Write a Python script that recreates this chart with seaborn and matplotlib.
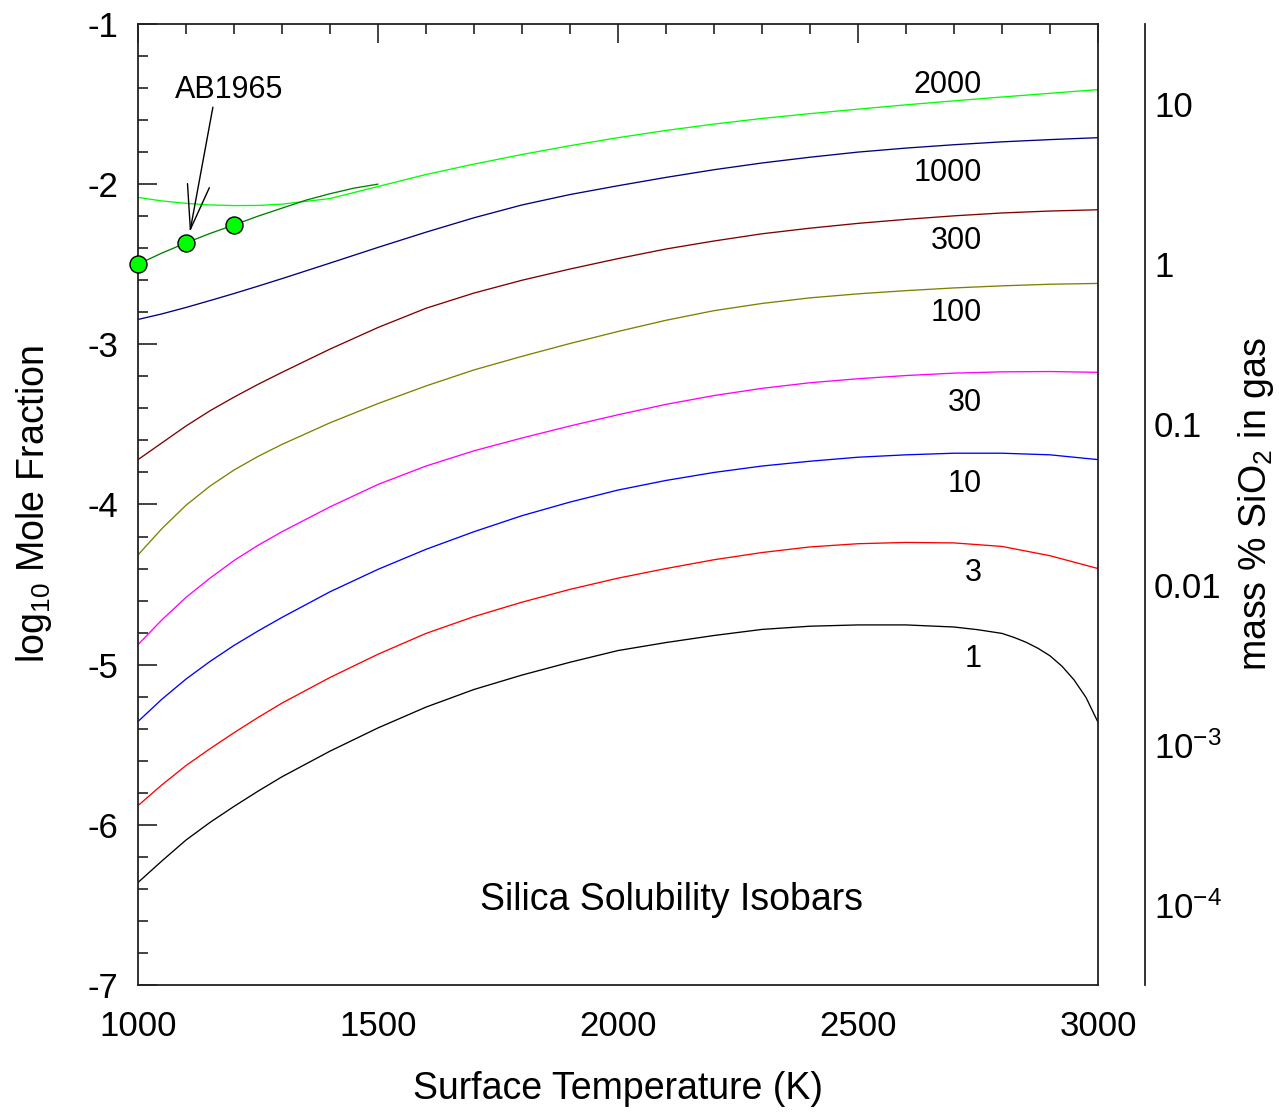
import numpy as np
import pandas as pd
import matplotlib
matplotlib.use("Agg")
import matplotlib.pyplot as plt
import seaborn as sns
from matplotlib.ticker import MultipleLocator

# ---------------- data ----------------
temps = [1000, 1050, 1100, 1150, 1200, 1250, 1300, 1400, 1500, 1600, 1700, 1800,
         1900, 2000, 2100, 2200, 2300, 2400, 2500, 2600, 2700, 2800, 2900, 3000]

p2000 = [-2.083, -2.105, -2.12, -2.13, -2.134, -2.133, -2.125, -2.09, -2.015, -1.94,
         -1.875, -1.815, -1.76, -1.71, -1.665, -1.625, -1.59, -1.56, -1.532, -1.505,
         -1.48, -1.456, -1.433, -1.41]
p1000 = [-2.845, -2.81, -2.77, -2.727, -2.683, -2.637, -2.59, -2.493, -2.395, -2.30,
         -2.21, -2.13, -2.065, -2.01, -1.958, -1.91, -1.868, -1.832, -1.80, -1.775,
         -1.754, -1.736, -1.722, -1.71]
p300 = [-3.72, -3.615, -3.51, -3.415, -3.33, -3.25, -3.175, -3.03, -2.895, -2.775,
        -2.68, -2.60, -2.53, -2.465, -2.405, -2.355, -2.31, -2.275, -2.245, -2.22,
        -2.198, -2.18, -2.168, -2.16]
p100 = [-4.315, -4.15, -4.005, -3.885, -3.785, -3.70, -3.625, -3.49, -3.37, -3.26,
        -3.16, -3.075, -2.995, -2.92, -2.85, -2.79, -2.745, -2.71, -2.685, -2.665,
        -2.648, -2.635, -2.625, -2.62]
p30 = [-4.875, -4.72, -4.58, -4.46, -4.35, -4.255, -4.17, -4.015, -3.875, -3.76,
       -3.665, -3.585, -3.51, -3.44, -3.375, -3.32, -3.275, -3.24, -3.215, -3.195,
       -3.18, -3.172, -3.17, -3.175]
p10 = [-5.355, -5.215, -5.09, -4.98, -4.88, -4.79, -4.705, -4.545, -4.405, -4.28,
       -4.17, -4.07, -3.985, -3.91, -3.85, -3.80, -3.76, -3.73, -3.705, -3.69,
       -3.68, -3.68, -3.69, -3.72]
p3 = [-5.88, -5.75, -5.63, -5.525, -5.425, -5.33, -5.24, -5.08, -4.935, -4.805,
      -4.70, -4.61, -4.53, -4.46, -4.40, -4.345, -4.30, -4.265, -4.245, -4.237,
      -4.24, -4.262, -4.32, -4.40]

temps_1 = [1000, 1050, 1100, 1150, 1200, 1250, 1300, 1400, 1500, 1600, 1700, 1800,
           1900, 2000, 2100, 2200, 2300, 2400, 2500, 2600, 2700, 2750, 2800, 2825,
           2850, 2875, 2900, 2925, 2950, 2975, 3000]
p1 = [-6.36, -6.225, -6.095, -5.985, -5.885, -5.79, -5.70, -5.54, -5.395, -5.265,
      -5.155, -5.065, -4.985, -4.912, -4.862, -4.818, -4.78, -4.76, -4.752, -4.752,
      -4.765, -4.782, -4.805, -4.83, -4.86, -4.898, -4.945, -5.01, -5.095, -5.205, -5.36]

pressures = ["2000", "1000", "300", "100", "30", "10", "3", "1"]
colors = ["#00FF00", "#000080", "#800000", "#808000", "#FF00FF", "#0000FF", "#FF0000", "#000000"]

# AB1965 measurements and their connecting curve
ab_temps = [1000, 1100, 1200]
ab_vals = [-2.50, -2.367, -2.255]
ab_line_temps = [1000, 1050, 1100, 1150, 1200, 1250, 1300, 1350, 1400, 1450, 1500]
ab_line_vals = [-2.50, -2.43, -2.367, -2.308, -2.255, -2.20, -2.15, -2.10, -2.06, -2.025, -2.0]

# curve label positions (right edge T, log10 value)
label_T = 2758
label_y = [-1.38, -1.93, -2.355, -2.805, -3.365, -3.875, -4.425, -4.965]

right_ticks = [-4, -3, -2, -1, 0, 1]
right_labels = ["$10^{-4}$", "$10^{-3}$", "0.01", "0.1", "1", "10"]

# ---------------- build long table ----------------
series = {"2000": (temps, p2000), "1000": (temps, p1000), "300": (temps, p300),
          "100": (temps, p100), "30": (temps, p30), "10": (temps, p10),
          "3": (temps, p3), "1": (temps_1, p1)}
frames = []
for k, (t, v) in series.items():
    frames.append(pd.DataFrame({"T": t, "logx": v, "P": k}))
df = pd.concat(frames, ignore_index=True)

# ---------------- style ----------------
sns.set_style("white")
plt.rcParams["font.family"] = ["Liberation Sans", "DejaVu Sans"]
plt.rcParams["mathtext.fontset"] = "custom"
plt.rcParams["mathtext.rm"] = "Liberation Sans"
plt.rcParams["mathtext.it"] = "Liberation Sans:italic"
plt.rcParams["mathtext.bf"] = "Liberation Sans:bold"
plt.rcParams["axes.unicode_minus"] = False
plt.rcParams["text.color"] = "black"
plt.rcParams["axes.labelcolor"] = "black"

fig = plt.figure(figsize=(12.79, 11.14), dpi=100)
ax = fig.add_axes([0.1079, 0.1158, 0.7506, 0.8627])

sns.lineplot(data=df, x="T", y="logx", hue="P", hue_order=pressures,
             palette=dict(zip(pressures, colors)), estimator=None, sort=True,
             legend=False, linewidth=0.95, ax=ax)

sns.lineplot(x=ab_line_temps, y=ab_line_vals, color="#008000", linewidth=0.95,
             estimator=None, ax=ax)
sns.scatterplot(x=ab_temps, y=ab_vals, color="#00FF00", edgecolor="black",
                linewidth=1.0, s=150, zorder=5, clip_on=False, ax=ax)

ax.set_xlim(1000, 3000)
ax.set_ylim(-7, -1)
ax.xaxis.set_major_locator(MultipleLocator(500))
ax.xaxis.set_minor_locator(MultipleLocator(100))
ax.yaxis.set_minor_locator(MultipleLocator(0.2))
ax.set_yticks([-7, -6, -5, -4, -3, -2, -1])
ax.set_yticklabels(["-7", "-6", "-5", "-4", "-3", "-2", "-1"])
ax.tick_params(which="both", direction="in", top=True, right=True, color="#222222",
               width=1.2, labelsize=25, labelcolor="black")
ax.tick_params(which="major", length=14)
ax.tick_params(which="minor", length=7)
ax.tick_params(axis="x", which="major", pad=18)
ax.tick_params(axis="y", which="major", pad=14)
for s in ax.spines.values():
    s.set_visible(True)
    s.set_color("#222222")
    s.set_linewidth(1.3)

ax.set_xlabel("Surface Temperature (K)", fontsize=27, labelpad=20, color="black")
ax.set_ylabel("log$_{10}$ Mole Fraction", fontsize=27, labelpad=24, color="black")

for p, y in zip(pressures, label_y):
    ax.text(label_T, y, p, fontsize=22, ha="right", va="center", color="black")

ax.text(2112, -6.47, "Silica Solubility Isobars", fontsize=27, ha="center",
        va="center", color="black")

ax.text(1190, -1.41, "AB1965", fontsize=22, ha="center", va="center", color="black")
ax.annotate("", xy=(1108, -2.30), xytext=(1156, -1.52),
            arrowprops=dict(arrowstyle="->,head_length=3.2,head_width=0.8",
                            mutation_scale=10, color="black", lw=1.0,
                            shrinkA=0, shrinkB=0))

# right axis: mass % SiO2
ax2 = ax.twinx()
ax2.set_ylim(-4.5, 1.5)
ax2.set_yticks(right_ticks)
ax2.set_yticklabels(right_labels)
for name in ["top", "bottom", "left"]:
    ax2.spines[name].set_visible(False)
ax2.spines["right"].set_visible(True)
ax2.spines["right"].set_position(("axes", 1.049))
ax2.spines["right"].set_color("#222222")
ax2.spines["right"].set_linewidth(1.3)
ax2.tick_params(axis="y", length=0, labelsize=25, pad=6.5, labelcolor="black")
ax2.set_ylabel("mass % SiO$_2$ in gas", fontsize=27, labelpad=10, color="black")
ax2.grid(False)

fig.savefig("out.png", dpi=100)
